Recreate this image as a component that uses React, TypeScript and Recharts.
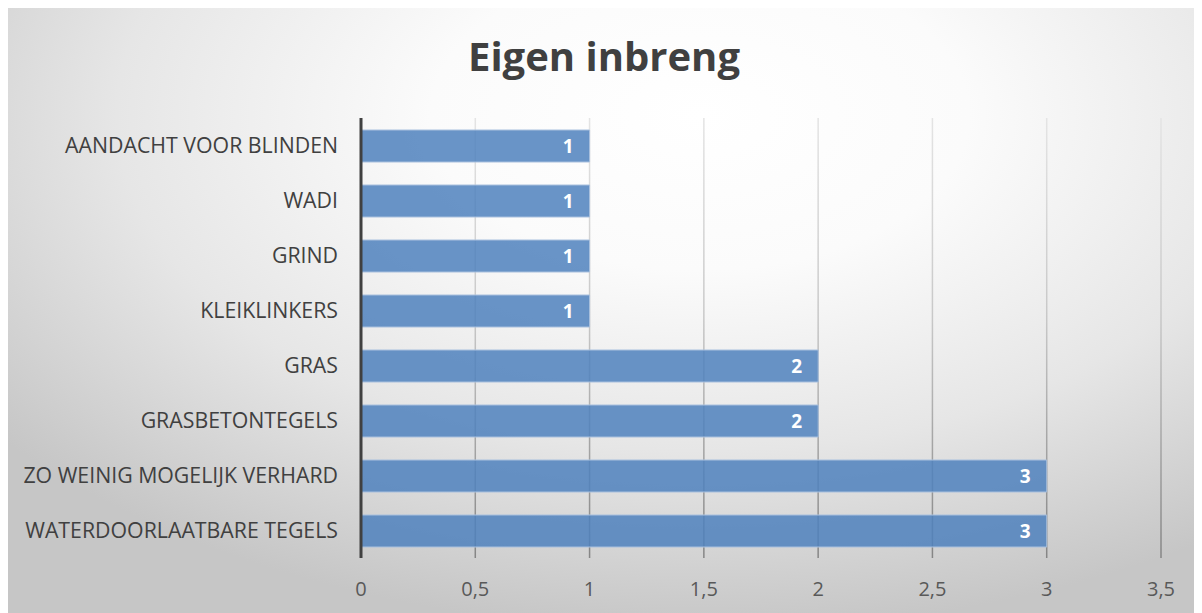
import { BarChart, Bar, XAxis, YAxis, CartesianGrid, LabelList } from "recharts";

const categories = [
  "AANDACHT VOOR BLINDEN",
  "WADI",
  "GRIND",
  "KLEIKLINKERS",
  "GRAS",
  "GRASBETONTEGELS",
  "ZO WEINIG MOGELIJK VERHARD",
  "WATERDOORLAATBARE TEGELS",
];
const counts = [1, 1, 1, 1, 2, 2, 3, 3];
const xTicks = [0, 0.5, 1, 1.5, 2, 2.5, 3, 3.5];

const data = categories.map((name, i) => ({ name, value: counts[i] }));

const FONT = "'Open Sans', sans-serif";

export default function App() {
  return (
    <div
      style={{
        position: "relative",
        width: 1196,
        height: 607,
        margin: "-2px 0 0 -2px",
        background:
          "radial-gradient(ellipse 75% 85% at 58% 18%, #ffffff 0%, #fbfbfb 30%, #e6e6e6 65%, #c6c6c6 100%)",
        fontFamily: FONT,
      }}
    >
      <div
        style={{
          position: "absolute",
          top: 22,
          left: 0,
          width: 1196,
          textAlign: "center",
          fontSize: 40,
          fontWeight: 700,
          color: "#404040",
          lineHeight: "56px",
        }}
      >
        Eigen inbreng
      </div>
      <BarChart
        width={1196}
        height={607}
        data={data}
        layout="vertical"
        margin={{ top: 112, right: 41, bottom: 15, left: 20 }}
        style={{ position: "absolute", top: 0, left: 0 }}
      >
        <defs>
          <linearGradient id="gridFade" gradientUnits="userSpaceOnUse" x1="0" y1="112" x2="0" y2="552">
            <stop offset="0%" stopColor="#e4e4e4" />
            <stop offset="45%" stopColor="#c8c8c8" />
            <stop offset="100%" stopColor="#858585" />
          </linearGradient>
        </defs>
        <CartesianGrid horizontal={false} stroke="url(#gridFade)" strokeWidth={1.5} />
        <XAxis
          type="number"
          domain={[0, 3.5]}
          ticks={xTicks}
          height={40}
          axisLine={false}
          tickLine={false}
          tickSize={0}
          tickMargin={24}
          tickFormatter={(v: number) => String(v).replace(".", ",")}
          tick={{ fill: "#595959", fontSize: 20, fontFamily: FONT }}
        />
        <YAxis
          type="category"
          dataKey="name"
          width={335}
          axisLine={{ stroke: "#404040", strokeWidth: 3 }}
          tickLine={false}
          tickSize={0}
          tickMargin={23}
          interval={0}
          tick={{ fill: "#404040", fontSize: 21.3, fontFamily: FONT }}
        />
        <Bar
          dataKey="value"
          fill="#4f81bd"
          fillOpacity={0.85}
          stroke="#a9c0de"
          strokeWidth={1}
          barSize={32}
          isAnimationActive={false}
        >
          <LabelList
            dataKey="value"
            position="insideRight"
            offset={16}
            fill="#ffffff"
            fontSize={19}
            fontWeight={700}
            fontFamily={FONT}
          />
        </Bar>
      </BarChart>
    </div>
  );
}
